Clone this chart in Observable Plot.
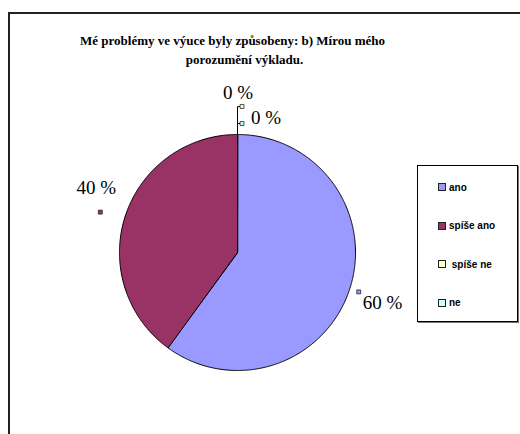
<!DOCTYPE html>
<html>
<head>
<meta charset="utf-8">
<script src="https://cdn.jsdelivr.net/npm/d3@7"></script>
<script src="https://cdn.jsdelivr.net/npm/@observablehq/plot@0.6"></script>
<style>
  html, body { margin: 0; padding: 0; background: #fff; }
  #wrap { position: relative; width: 520px; height: 434px; overflow: hidden; }
  #border { position: absolute; left: 8px; top: 12px; width: 600px; height: 600px;
            border-left: 2px solid #222; border-top: 2px solid #222; box-sizing: border-box; }
  #chart { position: absolute; left: 0; top: 0; }
  #chart svg text { font-family: "Liberation Serif", "Times New Roman", serif; }
  #legend { position: absolute; left: 417px; top: 165px; width: 101px; height: 157px;
            border: 1px solid #000; box-sizing: border-box; background: #fff;
            box-shadow: 1px 1px 0 #777; font-family: "Liberation Sans", Arial, sans-serif;
            font-weight: bold; font-size: 10px; color: #000; }
  .item { position: absolute; left: 20px; height: 12px; display: flex; align-items: center; white-space: pre; }
  .sw { width: 6px; height: 6px; border: 1px solid #222; margin-right: 3px; }
</style>
</head>
<body>
<div id="wrap">
  <div id="border"></div>
  <div id="chart"></div>
  <div id="legend"></div>
</div>
<script>
// ---- data ----
const categories = ["ano", "spíše ano", "spíše ne", "ne"];
const values = [60, 40, 0, 0];
const valueLabels = ["60 %", "40 %", "0 %", "0 %"];
const colors = ["#9999FF", "#993366", "#FFFFCC", "#CCFFFF"];
const titleLines = ["Mé problémy ve výuce byly způsobeny: b) Mírou mého", "porozumění výkladu."];

// ---- layout ----
const W = 520, H = 434;
const cx = 237, cy = 252, R = 118; // pie centre and radius in pixels

const arcs = d3.pie().sort(null).startAngle(0).endAngle(2 * Math.PI)(values);
const table = categories.map((c, i) => ({cat: c, value: values[i], label: valueLabels[i], a0: arcs[i].startAngle, a1: arcs[i].endAngle}));

// slice polygons (unit radius, y grows downward)
const slicePts = [];
for (const d of table) {
  if (d.value <= 0) continue;
  slicePts.push({cat: d.cat, x: 0, y: 0});
  const n = Math.max(2, Math.ceil((d.a1 - d.a0) / (Math.PI / 360)));
  for (let k = 0; k <= n; k++) {
    const a = d.a0 + (d.a1 - d.a0) * k / n;
    slicePts.push({cat: d.cat, x: Math.sin(a), y: -Math.cos(a)});
  }
}

// label anchors
const nonZero = table.filter(d => d.value > 0).map(d => {
  const a = (d.a0 + d.a1) / 2;
  return {...d, x: 1.08 * Math.sin(a), y: -1.08 * Math.cos(a)};
});
const zeroRad = [1.237, 1.093];
const zeros = table.filter(d => d.value === 0).map((d, k) => {
  const a = d.a0;
  const r = zeroRad[k];
  return {...d, r, x: r * Math.sin(a) + 0.038, y: -r * Math.cos(a), bx: r * Math.sin(a), by: -r * Math.cos(a)};
});
const leaders = [];
zeros.forEach(d => {
  leaders.push({cat: d.cat, x: Math.sin(d.a0), y: -Math.cos(d.a0)});
  leaders.push({cat: d.cat, x: d.bx, y: d.by});
  leaders.push({cat: d.cat, x: d.x - 0.015, y: d.y});
});

const labelFont = {fontSize: 19, fill: "#000"};
const titleFont = {fontWeight: "bold", fontSize: 13, fill: "#000"};

const chart = Plot.plot({
  width: W, height: H, margin: 0,
  x: {domain: [-cx / R, (W - cx) / R], range: [0, W], axis: null},
  y: {domain: [-cy / R, (H - cy) / R], range: [0, H], axis: null},
  color: {domain: categories, range: colors},
  style: {background: "transparent", overflow: "visible", fontFamily: "Liberation Serif"},
  marks: [
    Plot.line(slicePts, {x: "x", y: "y", z: "cat", fill: "cat", stroke: "#000", strokeWidth: 1, curve: "linear-closed"}),
    Plot.line(leaders, {x: "x", y: "y", z: "cat", stroke: "#000", strokeWidth: 1}),
    // title
    Plot.text([titleLines[0]], {text: d => d, frameAnchor: "top-left", dx: 232, dy: 40, textAnchor: "middle", lineAnchor: "middle", ...titleFont}),
    Plot.text([titleLines[1]], {text: d => d, frameAnchor: "top-left", dx: 244, dy: 59, textAnchor: "middle", lineAnchor: "middle", ...titleFont}),
    // 60 %
    Plot.dot(nonZero.filter(d => d.cat === "ano"), {x: "x", y: "y", symbol: "square", r: 2.2, fill: "cat", stroke: "#222", strokeWidth: 0.8}),
    Plot.text(nonZero.filter(d => d.cat === "ano"), {x: "x", y: "y", text: "label", dx: 4, dy: 11, textAnchor: "start", ...labelFont}),
    // 40 %
    Plot.dot(nonZero.filter(d => d.cat === "spíše ano"), {x: "x", y: "y", dx: -16, dy: -1, symbol: "square", r: 2.2, fill: "cat", stroke: "#222", strokeWidth: 0.8}),
    Plot.text(nonZero.filter(d => d.cat === "spíše ano"), {x: "x", y: "y", text: "label", dx: -20, dy: -25, textAnchor: "middle", ...labelFont}),
    // zero labels
    Plot.dot(zeros, {x: "x", y: "y", symbol: "square", r: 2.2, fill: "cat", stroke: "#222", strokeWidth: 0.8}),
    Plot.text(zeros.filter(d => d.cat === "spíše ne"), {x: "x", y: "y", text: "label", dx: -4, dy: -14, textAnchor: "middle", ...labelFont}),
    Plot.text(zeros.filter(d => d.cat === "ne"), {x: "x", y: "y", text: "label", dx: 9, dy: -6, textAnchor: "start", ...labelFont})
  ]
});
document.getElementById("chart").appendChild(chart);

// legend built from the plot's colour scale
const color = chart.scale("color");
const legend = document.getElementById("legend");
categories.forEach((c, i) => {
  const it = document.createElement("div");
  it.className = "item";
  it.style.top = (15 + i * 38.5) + "px";
  const sw = document.createElement("span");
  sw.className = "sw";
  sw.style.background = color.apply(c);
  const tx = document.createElement("span");
  tx.textContent = (c === "spíše ne" ? " " : "") + c;
  it.appendChild(sw); it.appendChild(tx);
  legend.appendChild(it);
});
</script>
</body>
</html>
